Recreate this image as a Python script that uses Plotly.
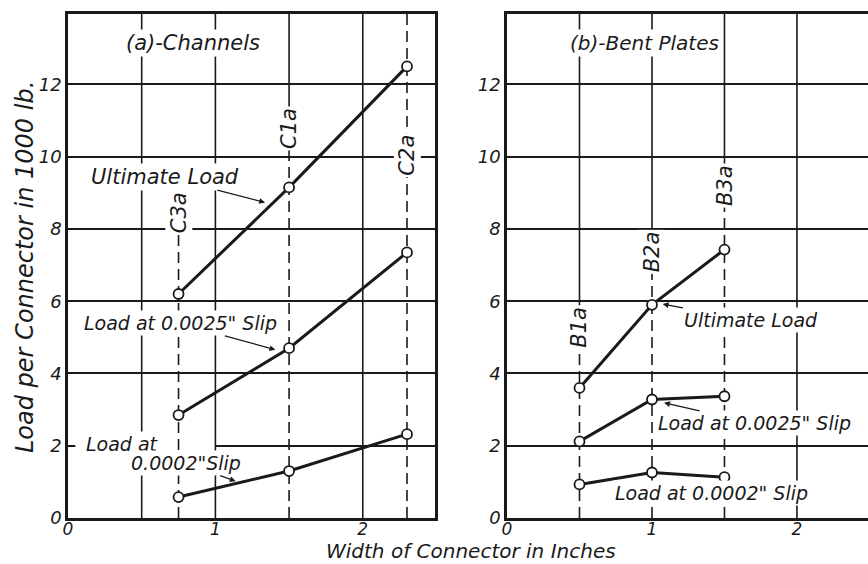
import plotly.graph_objects as go

# ---- data: load per connector (1000 lb) vs connector width (in.) ----
# (a) channels
ch_names = ["C3a", "C1a", "C2a"]
ch_width = [0.75, 1.5, 2.3]
ch_ultimate = [6.2, 9.15, 12.5]
ch_slip_0025 = [2.85, 4.7, 7.35]
ch_slip_0002 = [0.58, 1.3, 2.32]

# (b) bent plates
bp_names = ["B1a", "B2a", "B3a"]
bp_width = [0.5, 1.0, 1.5]
bp_ultimate = [3.6, 5.9, 7.43]
bp_slip_0025 = [2.12, 3.28, 3.37]
bp_slip_0002 = [0.93, 1.26, 1.13]

x_ticks = [0, 1, 2]
y_ticks = [0, 2, 4, 6, 8, 10, 12]
x_grid = [0.5, 1.0, 1.5, 2.0]

# ---- styling ----
FONT = "DejaVu Sans"
INK = "#1a1a1a"
W, H = 868, 564
X_RANGE = [0, 2.49]
Y_RANGE = [0, 13.95]
LEFT_DOM = [68 / W, 435 / W]
RIGHT_DOM = [507 / W, 1.0]
Y_DOM = [1 - 518 / H, 1 - 14 / H]
DASH = "11px,6px"


def tfont(size=19):
    return dict(family=FONT, size=size, color=INK, style="italic")


fig = go.Figure()


def add_series(xs, ys, xa, ya):
    fig.add_trace(go.Scatter(
        x=xs, y=ys, xaxis=xa, yaxis=ya, mode="lines+markers",
        line=dict(color=INK, width=3),
        marker=dict(symbol="circle", size=10, color="white",
                    line=dict(color=INK, width=1.8)),
        hoverinfo="skip", showlegend=False,
    ))


for ys in (ch_ultimate, ch_slip_0025, ch_slip_0002):
    add_series(ch_width, ys, "x", "y")
for ys in (bp_ultimate, bp_slip_0025, bp_slip_0002):
    add_series(bp_width, ys, "x2", "y2")

shapes = []


def vline(xref, yref, x, y0, y1, dash="solid"):
    shapes.append(dict(type="line", xref=xref, yref=yref, x0=x, x1=x,
                       y0=y0, y1=y1, layer="between",
                       line=dict(color=INK, width=1.6, dash=dash)))


# white gap in the 2-line behind the lower left label
shapes.append(dict(type="line", xref="x", yref="y", x0=0.05, x1=1.0,
                   y0=2, y1=2, layer="between",
                   line=dict(color="white", width=4)))

# specimen label heights on each panel
ch_label_y = [8.45, 10.77, 10.03]
bp_label_y = [5.28, 7.38, 9.2]

# vertical rulings, panel (a)
for gx in x_grid:
    if gx in ch_width:
        ly = ch_label_y[ch_width.index(gx)]
        vline("x", "y", gx, ly, Y_RANGE[1])
    else:
        vline("x", "y", gx, 0, Y_RANGE[1])
for i, cx in enumerate(ch_width):
    top = Y_RANGE[1] if i == len(ch_width) - 1 else ch_label_y[i]
    vline("x", "y", cx, 0, top, DASH)

# vertical rulings, panel (b)
for gx in x_grid:
    if gx in bp_width:
        ly = bp_label_y[bp_width.index(gx)]
        vline("x2", "y2", gx, ly, Y_RANGE[1])
        vline("x2", "y2", gx, 0, ly, DASH)
    else:
        vline("x2", "y2", gx, 0, Y_RANGE[1])

annotations = []


def label(text, x, y, xref, yref, size=19, angle=0, **kw):
    annotations.append(dict(text=text, x=x, y=y, xref=xref, yref=yref,
                            showarrow=False, font=tfont(size), textangle=angle,
                            bgcolor="white", borderpad=1, **kw))


def leader(text, px, py, tx, ty, xref, yref, size=19):
    annotations.append(dict(text=text, x=px, y=py, ax=tx, ay=ty,
                            xref=xref, yref=yref, axref=xref, ayref=yref,
                            showarrow=True, arrowhead=2, arrowsize=0.9,
                            arrowwidth=1.3, arrowcolor=INK, standoff=2,
                            font=tfont(size), bgcolor="white", borderpad=1))


# panel (a) text
label("(a)-Channels", 0.85, 13.15, "x", "y", size=21)
for n, cx, ly in zip(ch_names, ch_width, ch_label_y):
    label(n, cx, ly, "x", "y", size=21, angle=-90)
leader("Ultimate Load", 1.35, 8.72, 0.66, 9.45, "x", "y", size=21)
leader("Load at 0.0025\" Slip", 1.42, 4.64, 0.76, 5.39, "x", "y")
label("Load at", 0.37, 2.04, "x", "y")
leader("0.0002\"Slip", 1.15, 1.0, 0.8, 1.52, "x", "y")

# panel (b) text
label("(b)-Bent Plates", 0.95, 13.15, "x2", "y2", size=20)
for n, bx, ly in zip(bp_names, bp_width, bp_label_y):
    label(n, bx, ly, "x2", "y2", size=21, angle=-90)
leader("Ultimate Load", 1.06, 5.93, 1.68, 5.47, "x2", "y2")
leader("Load at 0.0025\" Slip", 1.07, 3.2, 1.71, 2.62, "x2", "y2")
leader("Load at 0.0002\" Slip", 0.73, 1.02, 1.41, 0.69, "x2", "y2")

# shared axis titles
annotations.append(dict(text="Width of Connector in Inches", x=471 / W,
                        y=1 - 551 / H, xref="paper", yref="paper",
                        xanchor="center", yanchor="middle",
                        showarrow=False, font=tfont(20)))
annotations.append(dict(text="Load per Connector in 1000 lb.", x=25 / W,
                        y=1 - 267 / H, xref="paper", yref="paper",
                        xanchor="center", yanchor="middle",
                        showarrow=False, font=tfont(24), textangle=-90))


def xaxis(dom, anchor):
    return dict(domain=dom, anchor=anchor, range=X_RANGE, tickvals=x_ticks,
                ticks="", showgrid=False, zeroline=False, showline=True,
                linecolor=INK, linewidth=2.5, mirror=True,
                tickfont=tfont(17), ticklabelstandoff=-6,
                automargin=False, fixedrange=True)


def yaxis(anchor, mirror):
    return dict(domain=Y_DOM, anchor=anchor, range=Y_RANGE, tickvals=y_ticks,
                ticks="", showgrid=True, gridcolor=INK, gridwidth=1.6,
                zeroline=False, showline=True, linecolor=INK, linewidth=2.5,
                mirror=mirror, tickfont=tfont(18), automargin=False,
                fixedrange=True)


fig.update_layout(
    width=W, height=H,
    margin=dict(l=0, r=0, t=0, b=0),
    paper_bgcolor="white", plot_bgcolor="white",
    xaxis=xaxis(LEFT_DOM, "y"),
    yaxis=yaxis("x", True),
    xaxis2=xaxis(RIGHT_DOM, "y2"),
    yaxis2=yaxis("x2", False),
    shapes=shapes,
    annotations=annotations,
    showlegend=False,
)

fig.write_html("out.html")
